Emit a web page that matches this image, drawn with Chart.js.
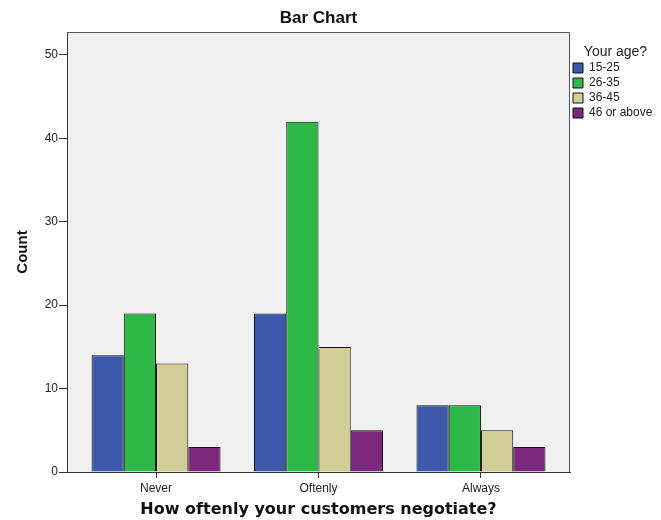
<!DOCTYPE html>
<html>
<head>
<meta charset="utf-8">
<script src="https://cdn.jsdelivr.net/npm/chart.js@4.4.1/dist/chart.umd.min.js"></script>
<style>
  html, body { margin: 0; padding: 0; background: #fff; }
  #wrap { width: 661px; height: 520px; }
</style>
</head>
<body>
<div id="wrap"><canvas id="barChart" width="661" height="520"></canvas></div>
<script>
// How oftenly your customers negotiate? counts split by age group
var categories = ['Never', 'Oftenly', 'Always'];
var ageGroups = ['15-25', '26-35', '36-45', '46 or above'];
var age15to25 = [14, 19, 8];
var age26to35 = [19, 42, 8];
var age36to45 = [13, 15, 5];
var age46plus = [3, 5, 3];
var countTicks = [0, 10, 20, 30, 40, 50];

var barColors = ['#3e58ac', '#2eb848', '#d3ce97', '#7c287d'];

Chart.defaults.font.family = 'Arial, "Liberation Sans", sans-serif';
Chart.defaults.color = '#222';

// grey plot background plus the top/right frame lines
var plotFrame = {
    id: 'plotFrame',
    beforeDraw: function (chart) {
        var a = chart.chartArea, ctx = chart.ctx;
        ctx.save();
        ctx.fillStyle = '#f0f0f0';
        ctx.fillRect(a.left, a.top, a.right - a.left, a.bottom - a.top);
        ctx.restore();
    },
    afterDatasetsDraw: function (chart) {
        var a = chart.chartArea, ctx = chart.ctx;
        ctx.save();
        ctx.strokeStyle = '#555';
        ctx.lineWidth = 1;
        ctx.beginPath();
        ctx.moveTo(a.left, Math.round(a.top) + 0.5);
        ctx.lineTo(Math.round(a.right) - 0.5, Math.round(a.top) + 0.5);
        ctx.lineTo(Math.round(a.right) - 0.5, a.bottom);
        ctx.stroke();
        ctx.restore();
    }
};

// keep the legend column a fixed width so the plot ends where it should
var legendWidth = {
    id: 'legendWidth',
    afterInit: function (chart) {
        var legend = chart.legend;
        var fit = legend.fit;
        legend.fit = function () {
            fit.call(this);
            this.width = 91;
        };
    }
};

function toPoints(values) {
    return values.map(function (v, i) { return { x: i, y: v }; });
}

var seriesValues = [age15to25, age26to35, age36to45, age46plus];
var datasets = ageGroups.map(function (name, i) {
    return {
        label: name,
        data: toPoints(seriesValues[i]),
        backgroundColor: barColors[i],
        borderColor: '#111',
        borderWidth: 1,
        inflateAmount: 0,
        categoryPercentage: 0.794,
        barPercentage: 1.0
    };
});

var ctx = document.getElementById('barChart').getContext('2d');
new Chart(ctx, {
    type: 'bar',
    data: { datasets: datasets },
    plugins: [plotFrame, legendWidth],
    options: {
        responsive: false,
        animation: false,
        devicePixelRatio: 1,
        layout: { padding: 0 },
        plugins: {
            title: {
                display: true,
                text: 'Bar Chart',
                fullSize: false,
                color: '#111',
                font: { size: 17, weight: 'bold' },
                padding: { top: 8, bottom: 3.6 }
            },
            legend: {
                position: 'right',
                align: 'start',
                title: {
                    display: true,
                    text: 'Your age?',
                    position: 'center',
                    color: '#222',
                    font: { size: 14, lineHeight: 1 },
                    padding: { top: 45, bottom: 0 }
                },
                labels: {
                    boxWidth: 10,
                    boxHeight: 10,
                    padding: 3,
                    color: '#222',
                    font: { size: 12 }
                }
            },
            tooltip: { enabled: false }
        },
        scales: {
            x: {
                type: 'linear',
                min: -0.548,
                max: 2.548,
                offset: false,
                afterBuildTicks: function (scale) {
                    scale.ticks = categories.map(function (c, i) { return { value: i }; });
                },
                afterFit: function (scale) {
                    scale.height = 520 - 472;
                },
                ticks: {
                    callback: function (value) { return categories[value]; },
                    font: { size: 12 },
                    color: '#222',
                    padding: 3,
                    maxRotation: 0
                },
                grid: {
                    drawOnChartArea: false,
                    drawTicks: true,
                    tickLength: 6,
                    color: '#333',
                    offset: false
                },
                border: { display: true, color: '#333', width: 1 },
                title: {
                    display: true,
                    text: 'How oftenly your customers negotiate?',
                    color: '#111',
                    font: { family: '"DejaVu Sans", Verdana, sans-serif', size: 16, weight: 'bold' },
                    padding: { top: 0, bottom: 1 }
                }
            },
            y: {
                min: 0,
                max: 52.75,
                afterBuildTicks: function (scale) {
                    scale.ticks = countTicks.map(function (v) { return { value: v }; });
                },
                afterFit: function (scale) {
                    scale.width = 67;
                },
                ticks: {
                    font: { size: 12 },
                    color: '#222',
                    padding: 1
                },
                grid: {
                    drawOnChartArea: false,
                    drawTicks: true,
                    tickLength: 8,
                    color: '#333'
                },
                border: { display: true, color: '#333', width: 1 },
                title: {
                    display: true,
                    text: 'Count',
                    color: '#111',
                    font: { size: 15, weight: 'bold' },
                    padding: { top: 14, bottom: 0 }
                }
            }
        }
    }
});
</script>
</body>
</html>
